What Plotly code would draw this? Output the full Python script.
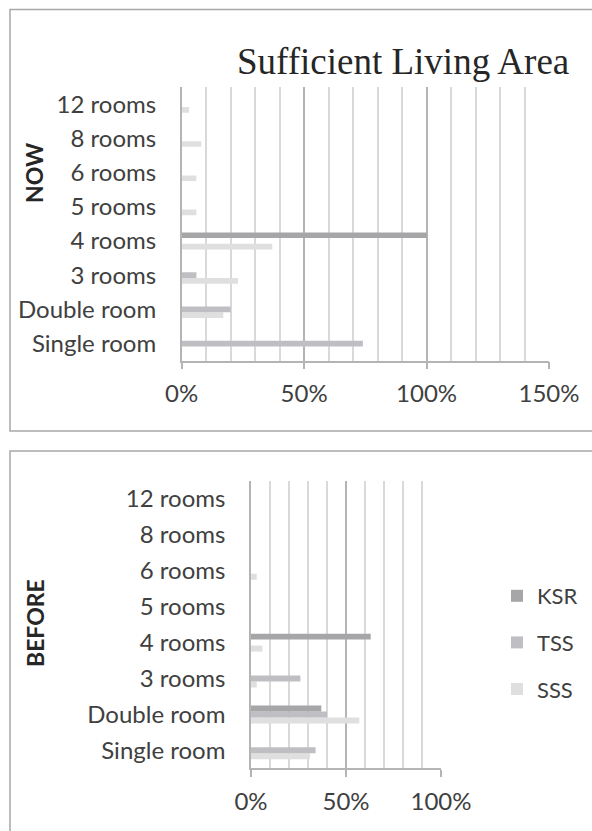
import plotly.graph_objects as go

# Room categories, bottom to top
categories = ["Single room", "Double room", "3 rooms", "4 rooms",
              "5 rooms", "6 rooms", "8 rooms", "12 rooms"]
series_names = ["SSS", "TSS", "KSR"]
series_colors = {"KSR": "#a6a6a8", "TSS": "#bfbfc3", "SSS": "#dfdfdf"}
legend_rank = {"KSR": 1, "TSS": 2, "SSS": 3}

# Share of residents (%) - current situation
now_ksr = [0, 0, 0, 100, 0, 0, 0, 0]
now_tss = [74, 20, 6, 0, 0, 0, 0, 0]
now_sss = [0, 17, 23, 37, 6, 6, 8, 3]

# Share of residents (%) - earlier situation
before_ksr = [0, 37, 0, 63, 0, 0, 0, 0]
before_tss = [34, 40, 26, 0, 0, 0, 0, 0]
before_sss = [31, 57, 3, 6, 0, 3, 0, 0]

now_ticks = [0, 50, 100, 150]
before_ticks = [0, 50, 100]

W, H = 592, 831
FONT = "Lato"
TXT = "#404040"
MAJOR = "#b4b4b4"
MINOR = "#d9d9d9"


def px(x):
    return x / W


def py(y):
    return 1 - y / H


now = {"KSR": now_ksr, "TSS": now_tss, "SSS": now_sss}
before = {"KSR": before_ksr, "TSS": before_tss, "SSS": before_sss}

fig = go.Figure()
for name in series_names:
    fig.add_trace(go.Bar(
        y=categories, x=now[name], name=name, orientation="h",
        marker=dict(color=series_colors[name], line=dict(width=0)),
        xaxis="x", yaxis="y", showlegend=False, legendgroup=name,
    ))
for name in series_names:
    fig.add_trace(go.Bar(
        y=categories, x=before[name], name=name, orientation="h",
        marker=dict(color=series_colors[name], line=dict(width=0)),
        xaxis="x2", yaxis="y2", showlegend=True, legendgroup=name,
        legendrank=legend_rank[name],
    ))


def xaxis_style(rng, ticks, domain, anchor):
    return dict(
        domain=domain, anchor=anchor, range=rng, automargin=False,
        tickvals=ticks, ticktext=[f"{t}%" for t in ticks],
        showgrid=True, gridcolor=MAJOR, gridwidth=1.5,
        minor=dict(dtick=10, showgrid=True, gridcolor=MINOR, gridwidth=1.5, ticks=""),
        showline=True, linecolor=MAJOR, linewidth=1.5,
        ticks="outside", ticklen=7, tickwidth=1.5, tickcolor=MAJOR,
        ticklabelstandoff=4, zeroline=False,
        tickfont=dict(family=FONT, size=24, color=TXT), fixedrange=True,
    )


def yaxis_style(domain, anchor):
    return dict(
        domain=domain, anchor=anchor, type="category", automargin=False,
        categoryorder="array", categoryarray=categories,
        showgrid=False, showline=True, linecolor=MAJOR, linewidth=1.5,
        ticks="", ticklabelstandoff=19, zeroline=False,
        tickfont=dict(family=FONT, size=24, color=TXT), fixedrange=True,
    )


fig.update_layout(
    width=W, height=H, autosize=False, margin=dict(l=0, r=0, t=0, b=0, pad=0),
    paper_bgcolor="white", plot_bgcolor="white",
    barmode="group", bargap=0.5, bargroupgap=0,
    xaxis=xaxis_style([0, 150], now_ticks, [px(181.7), px(549)], "y"),
    yaxis=yaxis_style([py(360.7), py(87)], "x"),
    xaxis2=xaxis_style([0, 100], before_ticks, [px(251), px(441)], "y2"),
    yaxis2=yaxis_style([py(768.3), py(481)], "x2"),
    legend=dict(
        x=px(497), y=py(575), xanchor="left", yanchor="top",
        traceorder="grouped", tracegroupgap=15,
        font=dict(family=FONT, size=22, color=TXT),
        bgcolor="rgba(0,0,0,0)", itemwidth=30,
    ),
    showlegend=True,
)

# Panel frames
fig.add_shape(type="rect", xref="paper", yref="paper",
              x0=px(10), x1=px(600), y0=py(431), y1=py(9.5),
              line=dict(color="#a8a8a8", width=1.5), layer="below")
fig.add_shape(type="rect", xref="paper", yref="paper",
              x0=px(10), x1=px(600), y0=py(840), y1=py(451),
              line=dict(color="#a8a8a8", width=1.5), layer="below")

fig.add_annotation(text="Sufficient Living Area", xref="paper", yref="paper",
                   x=px(403), y=py(62), xanchor="center", yanchor="middle",
                   showarrow=False,
                   font=dict(family="Liberation Serif", size=37, color="#262626"))
fig.add_annotation(text="<b>NOW</b>", xref="paper", yref="paper",
                   x=px(34), y=py(173), xanchor="center", yanchor="middle",
                   showarrow=False, textangle=-90,
                   font=dict(family=FONT, size=23, color="#262626"))
fig.add_annotation(text="<b>BEFORE</b>", xref="paper", yref="paper",
                   x=px(35), y=py(623), xanchor="center", yanchor="middle",
                   showarrow=False, textangle=-90,
                   font=dict(family=FONT, size=23, color="#262626"))

fig.write_html("out.html")
